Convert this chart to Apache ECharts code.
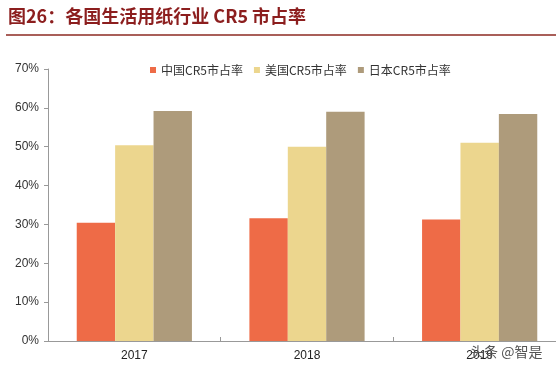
<!DOCTYPE html>
<html>
<head>
<meta charset="utf-8">
<script src="https://cdn.jsdelivr.net/npm/echarts@6/dist/echarts.min.js"></script>
<style>html,body{margin:0;padding:0;background:#fff;overflow:hidden;width:556px;height:369px;}#c{width:566px;height:369px;}</style>
</head>
<body>
<div id="c"></div>
<script>
const categories = ['2017', '2018', '2019'];
const chinaCR5 = [30.4, 31.6, 31.3];
const usCR5 = [50.4, 50.0, 51.0];
const japanCR5 = [59.2, 59.0, 58.4];
const seriesNames = ['中国CR5市占率', '美国CR5市占率', '日本CR5市占率'];
const yTicks = [0, 10, 20, 30, 40, 50, 60, 70];

const chart = echarts.init(document.getElementById('c'), null, {renderer: 'canvas'});
const font = '"Liberation Sans", Arial, "Noto Sans CJK SC", sans-serif';
chart.setOption({
  animation: false,
  backgroundColor: '#fff',
  title: {
    text: '图26：各国生活用纸行业 CR5 市占率',
    left: 3, top: 2,
    textStyle: {color: '#8C1E1E', fontSize: 18, fontWeight: 'bold', fontFamily: '"Noto Sans CJK SC", sans-serif'}
  },
  graphic: [
    {type: 'line', shape: {x1: 6, y1: 35, x2: 556, y2: 35}, style: {stroke: '#8C2A22', lineWidth: 1.5}},
    {type: 'text', left: 470, top: 345, z: 100,
     style: {text: '头条 @智是', fill: '#555', font: '14px "Noto Sans CJK SC", sans-serif'}}
  ],
  legend: {
    data: seriesNames,
    top: 59, left: 145,
    itemWidth: 6, itemHeight: 6, itemGap: 11,
    icon: 'rect',
    textStyle: {color: '#333', fontSize: 12, fontFamily: '"Noto Sans CJK SC", sans-serif'}
  },
  grid: {left: 48, top: 69, right: 0, bottom: 28, containLabel: false},
  xAxis: {
    type: 'category',
    data: categories,
    axisLine: {lineStyle: {color: '#999', width: 1}},
    axisTick: {show: true, inside: true, length: 4, lineStyle: {color: '#999'}},
    axisLabel: {color: '#222', fontSize: 12, margin: 9, fontFamily: font}
  },
  yAxis: {
    type: 'value',
    min: 0, max: 70, interval: 10,
    axisLine: {show: true, lineStyle: {color: '#999', width: 1}},
    axisTick: {show: true, length: 4, lineStyle: {color: '#999'}},
    splitLine: {show: false},
    axisLabel: {color: '#333', fontSize: 12, margin: 9, fontFamily: font,
      formatter: v => yTicks.includes(v) ? v + '%' : ''}
  },
  series: [
    {name: seriesNames[0], type: 'bar', data: chinaCR5, itemStyle: {color: '#EE6B47'}, barWidth: 38.4, barGap: '0%'},
    {name: seriesNames[1], type: 'bar', data: usCR5, itemStyle: {color: '#ECD68E'}, barWidth: 38.4, barGap: '0%'},
    {name: seriesNames[2], type: 'bar', data: japanCR5, itemStyle: {color: '#AE9B7B'}, barWidth: 38.4, barGap: '0%'}
  ]
});
</script>
</body>
</html>
